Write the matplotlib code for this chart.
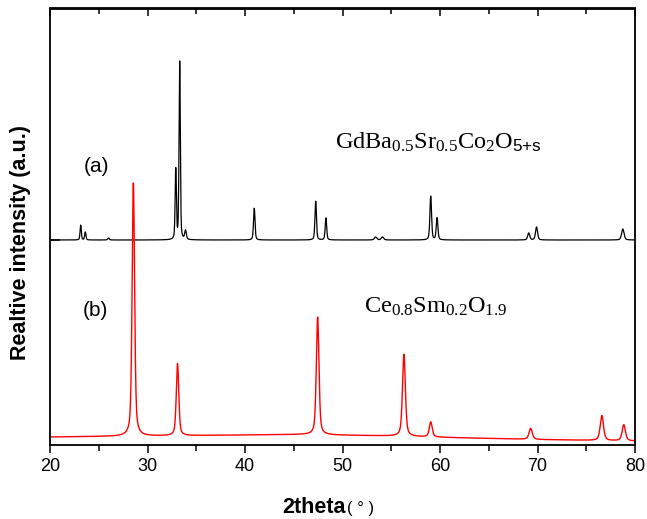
import numpy as np
import matplotlib
matplotlib.use("Agg")
import matplotlib.pyplot as plt

plt.rcParams['font.family'] = ['Liberation Sans', 'DejaVu Sans']
plt.rcParams['mathtext.fontset'] = 'custom'
plt.rcParams['mathtext.rm'] = 'Liberation Serif'
plt.rcParams['mathtext.it'] = 'Liberation Serif:italic'
plt.rcParams['mathtext.sf'] = 'Liberation Sans'
plt.rcParams['mathtext.default'] = 'rm'

# ---- data ----
# (a) GdBa0.5Sr0.5Co2O5+s : peak positions (2theta), heights above baseline, widths
a_pos = [23.15, 23.62, 26.0, 32.9, 33.3, 33.9, 40.95, 47.25, 48.3, 53.4, 54.1, 59.05, 59.7, 69.1, 69.9, 78.75]
a_hgt = [15, 8, 2, 70, 178, 9, 32, 39, 22, 3, 3, 44, 22, 7, 13, 11]
a_fwhm = [0.15, 0.15, 0.2, 0.15, 0.15, 0.2, 0.18, 0.18, 0.18, 0.3, 0.3, 0.2, 0.2, 0.25, 0.25, 0.3]
a_base = 205

# (b) Ce0.8Sm0.2O1.9
b_pos = [28.55, 33.08, 47.45, 56.3, 59.05, 69.3, 76.6, 78.85]
b_hgt = [254, 72, 118, 82, 15, 11, 25, 16]
b_fwhm = [0.3, 0.3, 0.32, 0.35, 0.35, 0.4, 0.4, 0.4]
b_bg_x = [20, 30, 40, 46, 55, 63, 70, 80]
b_bg_y = [8, 9, 10, 10.5, 9, 7, 5.5, 4]

theta = np.arange(20.0, 80.001, 0.02)


def profile(x, pos, hgt, fwhm, eta=0.5):
    y = np.zeros_like(x)
    for p, h, w in zip(pos, hgt, fwhm):
        u = (x - p) / (w / 2)
        y += h * (eta / (1 + u ** 2) + (1 - eta) * np.exp(-np.log(2) * u ** 2))
    return y


ya = a_base + profile(theta, a_pos, a_hgt, a_fwhm, 0.4)
yb = np.interp(theta, b_bg_x, b_bg_y) + profile(theta, b_pos, b_hgt, b_fwhm, 0.5)

fig = plt.figure(figsize=(6.47, 5.19), dpi=100)
ax = fig.add_axes([50 / 647, (519 - 445) / 519, 585 / 647, 436.5 / 519])

ax.plot(theta, ya, color='black', lw=0.9)
ax.plot(theta, yb, color='red', lw=1.0)

ax.set_xlim(20, 80)
ax.set_ylim(0, 436.5)
ax.set_xticks([20, 30, 40, 50, 60, 70, 80])
ax.set_xticks([25, 35, 45, 55, 65, 75], minor=True)
ax.tick_params(axis='x', which='major', direction='out', length=6, width=1.1,
               labelsize=13, pad=3.5, top=False)
ax.tick_params(axis='x', which='minor', direction='out', length=4, width=1.1, top=False)
ax.set_yticks([a_base])
ax.set_yticklabels([])
ax.tick_params(axis='y', which='both', direction='in', length=7, width=1.1, right=False)

top = ax.secondary_xaxis('top')
top.set_xticks([20, 30, 40, 50, 60, 70, 80])
top.set_xticks([25, 35, 45, 55, 65, 75], minor=True)
top.tick_params(which='major', direction='in', length=6, width=1.1, labeltop=False)
top.tick_params(which='minor', direction='in', length=4, width=1.1)
top.set_xticklabels([])

for s in ax.spines.values():
    s.set_linewidth(1.3)
top.spines['top'].set_linewidth(1.3)

ax.text(24.8, 279, '(a)', fontsize=15, ha='center', va='center')
ax.text(24.7, 135, '(b)', fontsize=15, ha='center', va='center')
ax.text(49.2, 296, r'$\mathrm{GdBa_{0.5}Sr_{0.5}Co_{2}O_{\mathsf{5{+}s}}}$',
        fontsize=17.5, ha='left', va='baseline')
ax.text(52.2, 132, r'$\mathrm{Ce_{0.8}Sm_{0.2}O_{1.9}}$',
        fontsize=17.5, ha='left', va='baseline')

fig.text(21 / 647, 1 - 242 / 519, 'Realtive intensity (a.u.)', rotation=90,
         ha='center', va='center', fontsize=15.5, fontweight='bold')
fig.text(346 / 647, (519 - 513) / 519, '2theta', ha='right', va='baseline',
         fontsize=15.5, fontweight='bold')
fig.text(347 / 647, (519 - 513) / 519, '( ° )', ha='left', va='baseline',
         fontsize=12)

fig.savefig('out.png', dpi=100)
